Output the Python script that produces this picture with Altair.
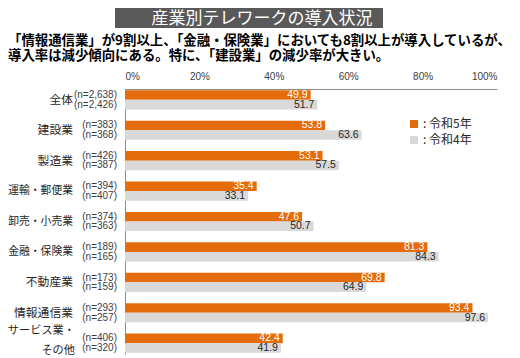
import altair as alt
import pandas as pd

categories = ["全体", "建設業", "製造業", "運輸・郵便業", "卸売・小売業",
              "金融・保険業", "不動産業", "情報通信業", "サービス業・\nその他"]
series = ["令和5年", "令和4年"]
values_r5 = [49.9, 53.8, 53.1, 35.4, 47.6, 81.3, 69.8, 93.4, 42.4]
values_r4 = [51.7, 63.6, 57.5, 33.1, 50.7, 84.3, 64.9, 97.6, 41.9]
n_r5 = ["2,638", "383", "426", "394", "374", "189", "173", "293", "406"]
n_r4 = ["2,426", "368", "387", "407", "363", "165", "159", "257", "320"]
x_ticks = [0, 20, 40, 60, 80, 100]
title_text = "産業別テレワークの導入状況"
subtitle_1 = "「情報通信業」が9割以上、「金融・保険業」においても8割以上が導入しているが、"
subtitle_2 = "導入率は減少傾向にある。特に、「建設業」の減少率が大きい。"

rows = []
for i, c in enumerate(categories):
    rows.append({"cat": c, "series": series[0], "value": values_r5[i], "n": f"(n={n_r5[i]})"})
    rows.append({"cat": c, "series": series[1], "value": values_r4[i], "n": f"(n={n_r4[i]})"})
df = pd.DataFrame(rows)
cat_single = pd.DataFrame({"cat": [c for c in categories if "\n" not in c]})
cat_multi = pd.DataFrame({"cat": [c for c in categories if "\n" in c]})

JP = "Noto Sans CJK JP"
SANS = "Liberation Sans"
ORANGE = "#E46C0A"
GRAY = "#D9D9D9"

y_enc = alt.Y("cat:N", sort=categories,
              scale=alt.Scale(paddingInner=0.37, paddingOuter=0.04),
              axis=alt.Axis(labels=False, ticks=False, title=None, domainColor="#8C8C8C", grid=False))
yoff = alt.YOffset("series:N", sort=series, scale=alt.Scale(paddingInner=0, paddingOuter=0))

bars = alt.Chart(df).mark_bar().encode(
    y=y_enc,
    yOffset=yoff,
    x=alt.X("value:Q", scale=alt.Scale(domain=[0, 100]),
            axis=alt.Axis(orient="top", values=x_ticks, labelExpr="datum.value + '%'",
                          ticks=False, grid=False, title=None, domainColor="#8C8C8C",
                          labelColor="#404040", labelFont=SANS, labelFontSize=10,
                          labelPadding=8)),
    color=alt.Color("series:N", sort=series,
                    scale=alt.Scale(domain=series, range=[ORANGE, GRAY]),
                    legend=alt.Legend(orient="none", legendX=283, legendY=29, title=None,
                                      symbolType="square", symbolSize=64, symbolStrokeWidth=0,
                                      labelExpr="': ' + datum.label", labelFont=JP,
                                      labelFontSize=12, labelColor="#262626", labelOffset=3,
                                      rowPadding=4)),
)

vals = alt.Chart(df).mark_text(align="right", baseline="middle", dx=-3, font=SANS, fontSize=10.5).encode(
    y=alt.Y("cat:N", sort=categories),
    yOffset=yoff,
    x="value:Q",
    text=alt.Text("value:Q", format=".1f"),
    color=alt.condition(alt.datum.series == series[0], alt.value("white"), alt.value("#262626")),
)

nlab = alt.Chart(df).mark_text(align="right", baseline="middle", font=SANS, fontSize=10, color="#404040").encode(
    y=alt.Y("cat:N", sort=categories),
    yOffset=yoff,
    x=alt.value(-8),
    text="n:N",
)

catlab = alt.Chart(cat_single).mark_text(align="right", baseline="middle", font=JP,
                                         color="#262626").encode(
    y=alt.Y("cat:N", sort=categories),
    x=alt.value(-52),
    text="cat:N",
    size=alt.condition("length(datum.cat) > 5", alt.value(10.8), alt.value(11.8)),
)
catlab2 = alt.Chart(cat_multi).mark_text(align="right", baseline="middle", font=JP, fontSize=11.2,
                                         color="#262626", lineBreak="\n", lineHeight=20, dy=-12).encode(
    y=alt.Y("cat:N", sort=categories),
    x=alt.value(-50),
    text="cat:N",
)

tdf = pd.DataFrame({"t": [title_text]})
tbox = alt.Chart(tdf).mark_rect(color="#595959").encode(
    x=alt.value(-10), x2=alt.value(258), y=alt.value(-81), y2=alt.value(-61))
ttext = alt.Chart(tdf).mark_text(font=JP, fontSize=17, color="white", align="center", baseline="middle").encode(
    x=alt.value(137), y=alt.value(-70), text="t:N")

s1 = alt.Chart(pd.DataFrame({"t": [subtitle_1]})).mark_text(
    font=JP, fontSize=13.4, fontWeight="bold", color="#000000", align="left", baseline="middle").encode(
    x=alt.value(-117), y=alt.value(-48), text="t:N")
s2 = alt.Chart(pd.DataFrame({"t": [subtitle_2]})).mark_text(
    font=JP, fontSize=13.4, fontWeight="bold", color="#000000", align="left", baseline="middle").encode(
    x=alt.value(-117), y=alt.value(-33), text="t:N")

chart = alt.layer(bars, vals, nlab, catlab, catlab2, tbox, ttext, s1, s2).properties(
    width=372, height=265,
    autosize=alt.AutoSizeParams(type="none"),
    padding={"left": 117, "top": 81, "right": 15, "bottom": 4},
).configure_view(stroke=None)

chart.save("out.html", embed_options={"renderer": "svg", "actions": False})
